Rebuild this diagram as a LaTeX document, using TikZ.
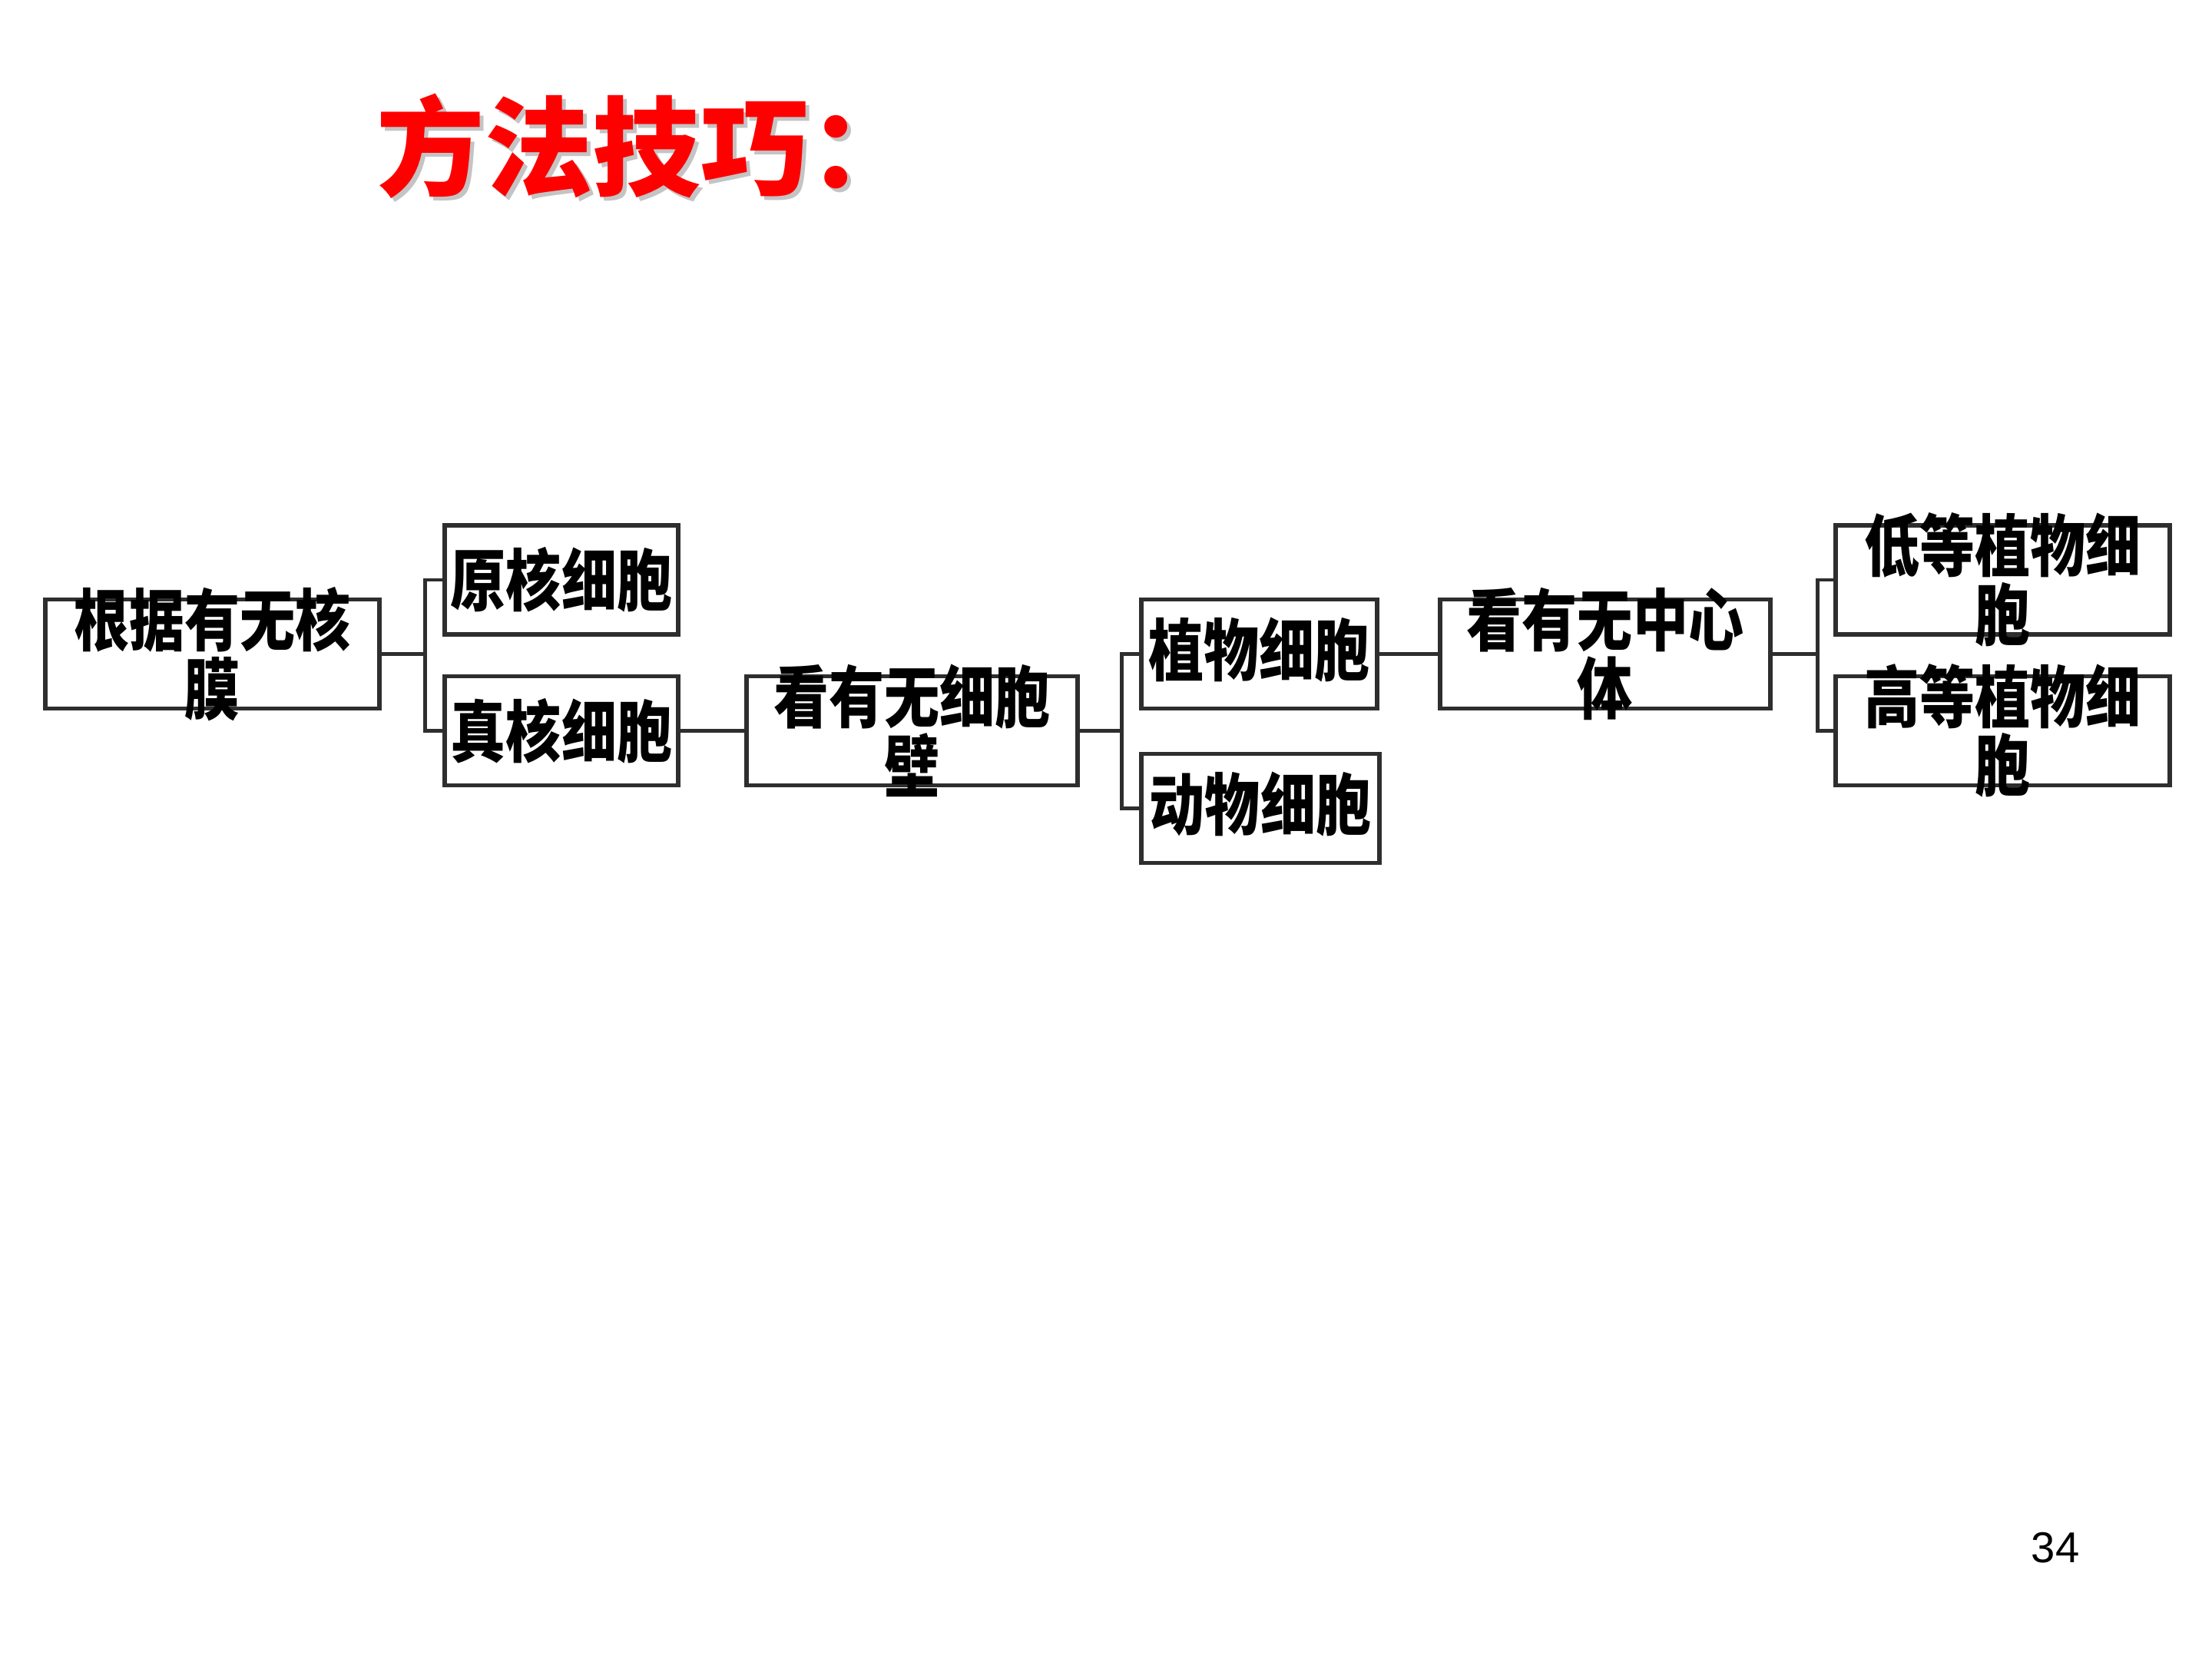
\documentclass[tikz,border=0pt]{standalone}
\usepackage{fontspec}
\usepackage{xcolor}
\usepackage{tikz}
\usetikzlibrary{positioning, calc}
\setmainfont{Liberation Sans}
\newfontfamily\cjk{Noto Sans CJK SC}
\newfontfamily\cjknarrow[FakeStretch=0.82]{Noto Sans CJK SC}
\definecolor{titlered}{HTML}{FF0000}
\definecolor{titleshade}{HTML}{C4C4C4}
\definecolor{boxline}{HTML}{2E2E2E}

\begin{document}
\begin{tikzpicture}[
  cellbox/.style={draw=boxline, line width=1.6pt, minimum width=#1,
                  minimum height=1.42cm, inner sep=0pt},
  celltext/.style={font=\cjknarrow\bfseries\fontsize{25}{25.5}\selectfont,
                   align=center, inner sep=0pt},
  link/.style={draw=boxline, line width=1.4pt}]
  \useasboundingbox (0,0) rectangle (28.8,-21.6);

  % title with its grey shadow
  \node[anchor=west, inner sep=0pt, text=titleshade,
        font=\cjk\bfseries\fontsize{40}{40}\selectfont] at (4.95,-1.95) {方法技巧：};
  \node[anchor=west, inner sep=0pt, text=titlered,
        font=\cjk\bfseries\fontsize{40}{40}\selectfont] (title) at (4.9,-1.9) {方法技巧：};

  % boxes
  \node[cellbox=4.35cm] (nucleus) at (2.765,-8.515) {};
  \node[cellbox=3.04cm] (prok) at (7.31,-7.55) {};
  \node[cellbox=3.04cm] (euk) at (7.31,-9.515) {};
  \node[cellbox=4.31cm] (wall) at (11.875,-9.515) {};
  \node[cellbox=3.07cm] (plant) at (16.395,-8.515) {};
  \node[cellbox=3.10cm] (animal) at (16.41,-10.525) {};
  \node[cellbox=4.30cm] (centriole) at (20.9,-8.515) {};
  \node[cellbox=4.35cm] (lower) at (26.075,-7.55) {};
  \node[cellbox=4.35cm] (higher) at (26.075,-9.515) {};

  % texts, they may run over the frames
  \node[celltext] (nucleustxt) at (nucleus) {根据有无核\\膜};
  \node[celltext] (proktxt) at (prok) {原核细胞};
  \node[celltext] (euktxt) at (euk) {真核细胞};
  \node[celltext] (walltxt) at (wall) {看有无细胞\\壁};
  \node[celltext] (planttxt) at ($(plant)+(0,0.05)$) {植物细胞};
  \node[celltext] (animaltxt) at ($(animal)+(0,0.05)$) {动物细胞};
  \node[celltext] (centrioletxt) at (centriole) {看有无中心\\体};
  \node[celltext] (lowertxt) at (lower) {低等植物细\\胞};
  \node[celltext] (highertxt) at (higher) {高等植物细\\胞};

  % forks
  \draw[link] (nucleus.east) -- ++(0.57,0) coordinate (forkA) |- (prok.west);
  \draw[link] (forkA) |- (euk.west);
  \draw[link] (euk.east) -- (wall.west);
  \draw[link] (wall.east) -- ++(0.55,0) coordinate (forkB) |- (plant.west);
  \draw[link] (forkB) |- (animal.west);
  \draw[link] (plant.east) -- (centriole.west);
  \draw[link] (centriole.east) -- ++(0.59,0) coordinate (forkC) |- (lower.west);
  \draw[link] (forkC) |- (higher.west);

  % page number
  \node[font=\fontsize{16}{16}\selectfont, inner sep=0pt] (pagenum) at (26.76,-20.15) {34};
\end{tikzpicture}
\end{document}
